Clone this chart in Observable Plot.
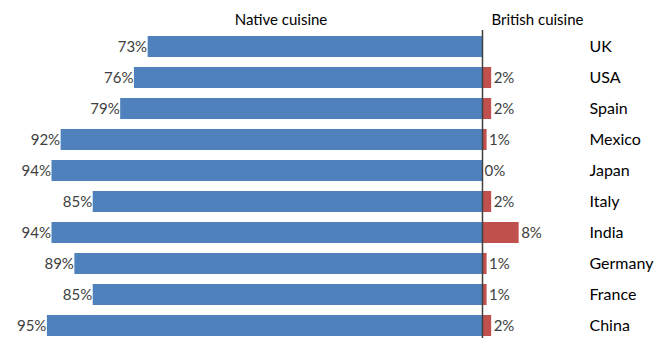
<!DOCTYPE html>
<html>
<head>
<meta charset="utf-8">
<script src="https://cdn.jsdelivr.net/npm/d3@7"></script>
<script src="https://cdn.jsdelivr.net/npm/@observablehq/plot@0.6"></script>
<style>
  html, body { margin: 0; padding: 0; background: white; }
</style>
</head>
<body>
<div id="chart"></div>
<script>
const countries = ["UK", "USA", "Spain", "Mexico", "Japan", "Italy", "India", "Germany", "France", "China"];
const nativeShare = [73, 76, 79, 92, 94, 85, 94, 89, 85, 95];
const britishShare = [null, 2, 2, 1, 0, 2, 8, 1, 1, 2];
const headerLabels = ["Native cuisine", "British cuisine"];
const headerAt = [-44, 12];

const rows = countries.map((c, i) => ({country: c, native: nativeShare[i], british: britishShare[i]}));

const chart = Plot.plot({
  width: 667,
  height: 338,
  marginTop: 30,
  marginBottom: 0,
  marginLeft: 0,
  marginRight: 78,
  style: {fontFamily: "Lato, sans-serif", fontSize: "15px", color: "#404040", background: "white"},
  x: {domain: [-100, 40], range: [24, 665.2], axis: null},
  y: {domain: countries, range: [24.7, 348], padding: 0.33, axis: null},
  marks: [
    Plot.barX(rows, {x1: 0, x2: d => -d.native, y: "country", fill: "#4F81BD"}),
    Plot.barX(rows.filter(d => d.british != null), {x1: 0, x2: "british", y: "country", fill: "#C0504D"}),
    Plot.text(rows, {x: d => -d.native, y: "country", text: d => d.native + "%", textAnchor: "end", dx: -1, fill: "#404040", fontSize: 15}),
    Plot.text(rows.filter(d => d.british != null), {x: "british", y: "country", text: d => d.british + "%", textAnchor: "start", dx: 2, fill: "#404040", fontSize: 15}),
    Plot.ruleX([0], {stroke: "#404040", strokeWidth: 1.5}),
    Plot.axisY({anchor: "right", tickSize: 0, tickPadding: 0, fontSize: 16, fill: "#000", label: null}),
    Plot.axisX(headerAt, {anchor: "top", tickSize: 0, tickPadding: 6, tickFormat: (d, i) => headerLabels[i], fontSize: 15, fill: "#000", label: null})
  ]
});
document.getElementById("chart").appendChild(chart);
</script>
</body>
</html>
